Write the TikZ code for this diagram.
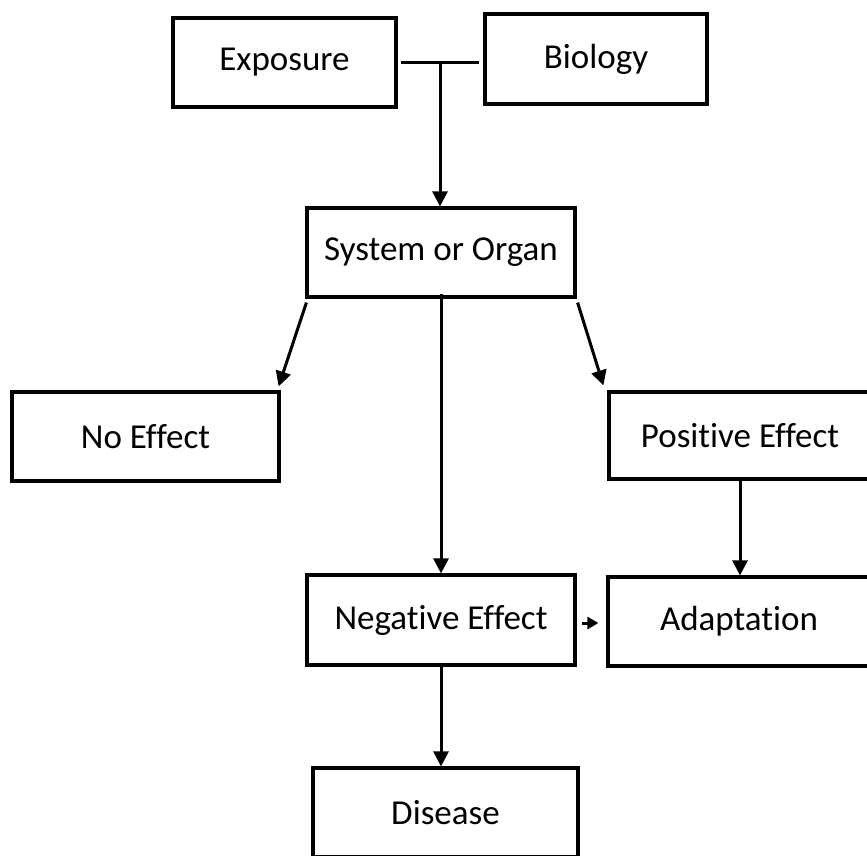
\documentclass[tikz,border=0pt]{standalone}
\usepackage{fontspec}
\setmainfont{Carlito}[Ligatures={NoCommon}]
\usetikzlibrary{arrows.meta}
\tikzset{
  box/.style={draw=black, line width=3.2pt, rectangle, inner sep=0pt,
    font=\fontsize{35}{40}\selectfont, text=black},
  conn/.style={draw=black, line width=3pt},
  arr/.style={conn, -{Triangle[length=15pt,width=15pt]}},
  sarr/.style={conn, -{Triangle[length=11pt,width=12pt]}}
}
\begin{document}
\begin{tikzpicture}[x=1pt,y=-1pt]
\clip (0,0) rectangle (867,855);
\fill[white] (0,0) rectangle (867,855);
% boxes
\node[box, minimum width=223pt, minimum height=89pt] (exp) at (284.5,62.5) {Exposure};
\node[box, minimum width=222pt, minimum height=90pt] (bio) at (596,59) {Biology};
\node[box, minimum width=268pt, minimum height=89pt] (sys) at (441,252.5) {System or Organ};
\node[box, minimum width=267pt, minimum height=89pt] (noe) at (145.5,436.5) {No Effect};
\node[box, minimum width=262pt, minimum height=87pt] (pos) at (740,435.5) {Positive Effect};
\node[box, minimum width=268pt, minimum height=90pt] (neg) at (441,620) {Negative Effect};
\node[box, minimum width=262pt, minimum height=89pt] (ada) at (739,621.5) {Adaptation};
\node[box, minimum width=265pt, minimum height=89pt] (dis) at (445.5,812.5) {Disease};
% connectors
\coordinate (j) at (440,62);
\coordinate (ns) at ([shift={(5,3)}]neg.east);
\coordinate (ae) at (ada.west |- ns);
\draw[conn] ([xshift=3pt]exp.east) -- ([xshift=-4pt]bio.west |- exp.east);
\draw[arr] (j) -- (j |- sys.north);
\draw[arr] ([shift={(1,4)}]sys.south west) -- ([shift={(-2,-4)}]noe.north east);
\draw[arr] ([shift={(1,4)}]sys.south east) -- ([shift={(-4,-5)}]pos.north west);
\draw[arr] ([yshift=5pt]sys.south) -- (sys.south |- neg.north);
\draw[arr] ([yshift=4pt]pos.south) -- (pos.south |- ada.north);
\draw[sarr] (ns) -- ([xshift=-8pt]ae);
\draw[arr] ([yshift=4pt]neg.south) -- (neg.south |- dis.north);
\end{tikzpicture}
\end{document}
